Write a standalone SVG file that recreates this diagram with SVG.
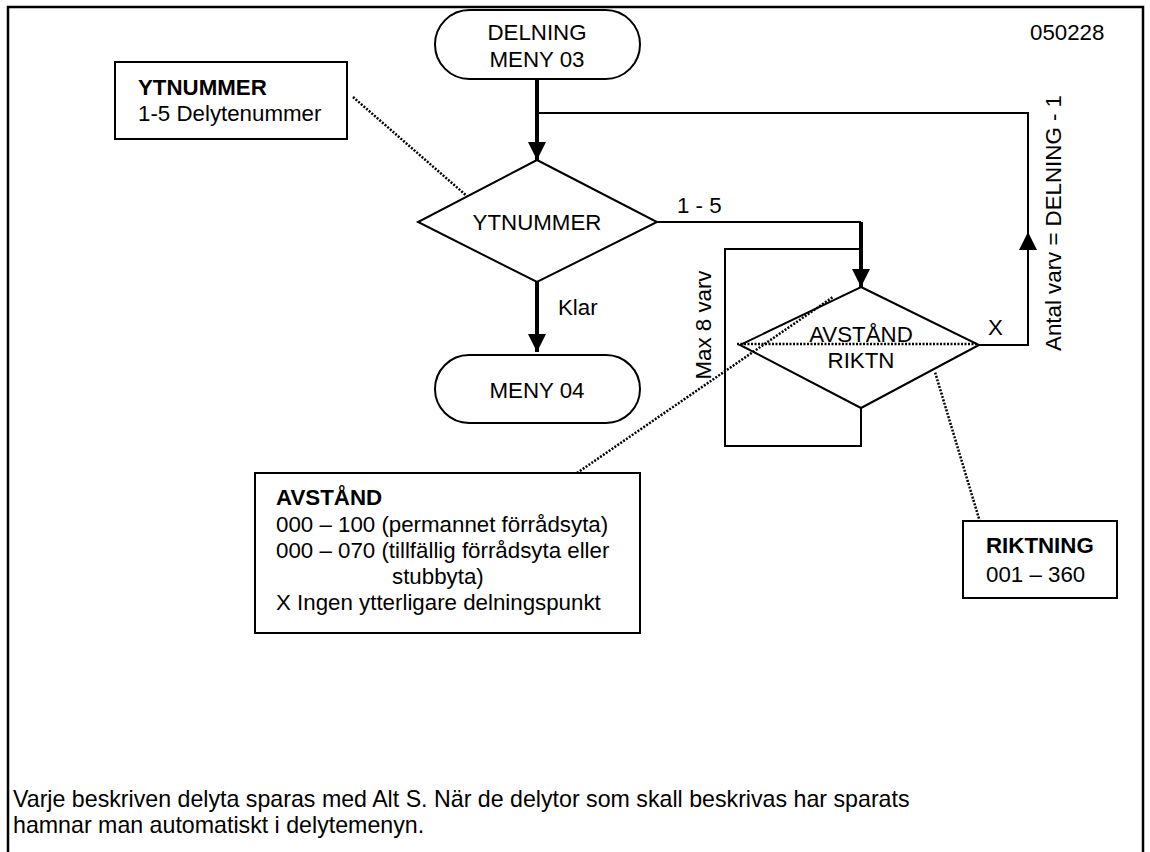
<svg xmlns="http://www.w3.org/2000/svg" width="1150" height="852" viewBox="0 0 1150 852">
<style>
text{font-family:"Liberation Sans",Arial,sans-serif;font-size:22.3px;fill:#000}
.b{font-weight:bold}
.c{text-anchor:middle}
.f{font-size:23.2px}
.sh{fill:#fff;stroke:#000;stroke-width:2}
.ln{fill:none;stroke:#000;stroke-width:2}
.tk{fill:none;stroke:#000;stroke-width:4}
.dt{fill:none;stroke:#000;stroke-width:2.5;stroke-dasharray:2 1.5}
</style>
<defs>
<marker id="ah" viewBox="0 0 10 10" refX="10" refY="5" markerWidth="18" markerHeight="18" markerUnits="userSpaceOnUse" orient="auto">
<path d="M0,0 L10,5 L0,10 z" fill="#000"/>
</marker>
</defs>
<rect x="0" y="0" width="1150" height="852" fill="#fff"/>
<path d="M8,860 V7 H1143 V860" fill="none" stroke="#000" stroke-width="2.5"/>
<text x="1030" y="40">050228</text>
<g id="connectors">
<path class="tk" d="M537,79 V160" marker-end="url(#ah)"/>
<path class="ln" d="M537,113 H1028 V233"/>
<path class="ln" d="M979,345 H1028 V232" marker-end="url(#ah)"/>
<path class="ln" d="M657,222 H861"/>
<path class="tk" d="M861,222 V287" marker-end="url(#ah)"/>
<path class="tk" d="M537,282 V352" marker-end="url(#ah)"/>
<path class="ln" d="M861,408 V446 H725 V249 H861"/>
<path class="dt" d="M353,97 L468,197"/>
<path class="dt" d="M577,473 L833,297"/>
<path class="dt" d="M737,344 H977"/>
<path class="dt" d="M980,522 L935,372"/>
<text x="677" y="213">1 - 5</text>
<text x="558" y="315">Klar</text>
<text x="988" y="335">X</text>
<text transform="translate(711,325) rotate(-90)" class="c">Max 8 varv</text>
<text transform="translate(1061,223) rotate(-90)" class="c">Antal varv = DELNING - 1</text>
</g>
<g id="delning">
<rect class="sh" x="435" y="10" width="205" height="69" rx="34.5"/>
<text class="c" x="537" y="40">DELNING</text>
<text class="c" x="537" y="67">MENY 03</text>
</g>
<g id="ytnummer-dec">
<path class="sh" d="M537,160 L657,222 L537,282 L418,222 Z"/>
<text class="c" x="537" y="230">YTNUMMER</text>
</g>
<g id="meny04">
<rect class="sh" x="435" y="355" width="205" height="68" rx="34"/>
<text class="c" x="537" y="398">MENY 04</text>
</g>
<g id="avstand-dec">
<path d="M861,287 L979,345 L861,408 L740,345 Z" class="ln"/>
<text class="c" x="861" y="342">AVSTÅND</text>
<text class="c" x="861" y="368">RIKTN</text>
</g>
<g id="ytnummer-note">
<rect class="sh" x="115" y="62" width="232" height="77"/>
<text class="b" x="138" y="95">YTNUMMER</text>
<text x="138" y="121">1-5 Delytenummer</text>
</g>
<g id="avstand-note">
<rect class="sh" x="255" y="473" width="385" height="160"/>
<text class="b" x="276" y="505">AVSTÅND</text>
<text x="276" y="532">000 – 100 (permannet förrådsyta)</text>
<text x="276" y="558">000 – 070 (tillfällig förrådsyta eller</text>
<text x="392" y="584">stubbyta)</text>
<text x="276" y="610">X Ingen ytterligare delningspunkt</text>
</g>
<g id="riktning-note">
<rect class="sh" x="963" y="521" width="154" height="77"/>
<text class="b" x="986" y="553">RIKTNING</text>
<text x="986" y="582">001 – 360</text>
</g>
<g id="footer">
<text class="f" x="13" y="807">Varje beskriven delyta sparas med Alt S. När de delytor som skall beskrivas har sparats</text>
<text class="f" x="13" y="833">hamnar man automatiskt i delytemenyn.</text>
</g>
</svg>
